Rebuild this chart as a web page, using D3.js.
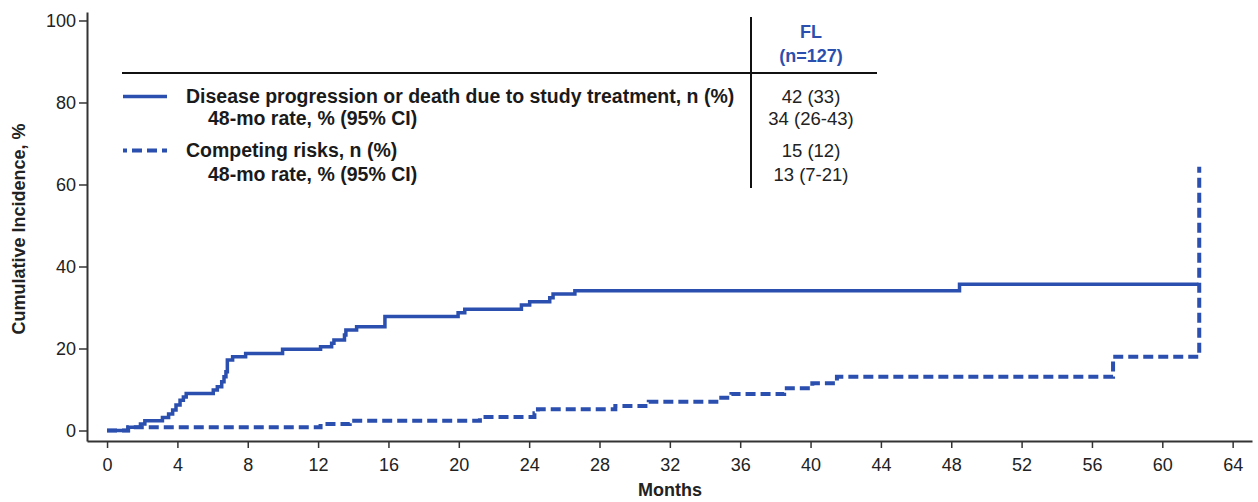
<!DOCTYPE html>
<html>
<head>
    <meta charset="utf-8">
    <script src="https://d3js.org/d3.v7.min.js"></script>
    <style>
        body { margin: 0; background: #fff; }
        text { font-family: "Liberation Sans", Arial, sans-serif; }
    </style>
</head>
<body>
    <div id="chart"></div>

    <script>
        // data
        const progMonths = [0, 1.2, 1.9, 2.15, 3.15, 3.5, 3.73, 3.92, 4.15, 4.34, 4.5, 6.04, 6.27, 6.52, 6.65, 6.76, 6.84, 7.14, 7.88, 9.98, 12.14, 12.77, 12.9, 13.5, 13.58, 14.19, 15.8, 19.96, 20.34, 23.56, 24.03, 25.17, 25.36, 26.6, 48.47, 62.06];
        const progValues = [0, 0.8, 1.6, 2.4, 3.2, 4.0, 5.0, 6.2, 7.4, 8.2, 9.0, 9.9, 10.7, 11.9, 13.1, 14.3, 17.2, 18.0, 18.8, 19.8, 20.4, 21.3, 22.1, 23.3, 24.5, 25.3, 27.8, 28.7, 29.6, 30.6, 31.4, 32.4, 33.3, 34.1, 35.7, 35.7];

        const compMonths = [0, 1.2, 12.14, 13.8, 21.2, 24.3, 24.5, 28.9, 30.8, 34.8, 35.5, 38.5, 40.1, 41.5, 57.2, 62.1];
        const compValues = [0, 0.8, 1.6, 2.4, 3.3, 4.2, 5.2, 6.0, 7.0, 8.0, 8.9, 10.3, 11.5, 13.1, 18.0, 64.3];

        const xTicks = d3.range(0, 65, 4);
        const yTicks = [0, 20, 40, 60, 80, 100];

        const groupName = "FL";
        const groupN = "(n=127)";
        const rowLabels = [
            "Disease progression or death due to study treatment, n (%)",
            "48-mo rate, % (95% CI)",
            "Competing risks, n (%)",
            "48-mo rate, % (95% CI)"
        ];
        const rowValues = ["42 (33)", "34 (26-43)", "15 (12)", "13 (7-21)"];

        const width = 1258;
        const height = 502;
        const blue = "#2b4fae";
        const axisColor = "#333";

        const svg = d3.select("#chart")
            .append("svg")
            .attr("width", width)
            .attr("height", height);

        // scales (axis lines run a bit past 0 and 100 / 0 and 64)
        const x = d3.scaleLinear().domain([-1.14, 65.1]).range([87, 1252]);
        const y = d3.scaleLinear().domain([-2.56, 102.07]).range([441, 12]);

        // x axis
        const gx = svg.append("g")
            .attr("transform", "translate(0,441)")
            .call(d3.axisBottom(x).tickValues(xTicks).tickSize(7).tickSizeOuter(0).tickPadding(10));
        // y axis
        const gy = svg.append("g")
            .attr("transform", "translate(87,0)")
            .call(d3.axisLeft(y).tickValues(yTicks).tickSize(8).tickSizeOuter(0).tickPadding(3));

        [gx, gy].forEach(g => {
            g.select(".domain").attr("stroke", axisColor).attr("stroke-width", 2);
            g.selectAll(".tick line").attr("stroke", axisColor).attr("stroke-width", 1.5);
            g.selectAll(".tick text")
                .attr("fill", "#222")
                .style("font-size", "18px")
                .style("font-family", "'Liberation Sans', Arial, sans-serif");
        });

        // axis titles
        svg.append("text")
            .attr("x", 670).attr("y", 496)
            .attr("text-anchor", "middle")
            .style("font-size", "18px").style("font-weight", "bold")
            .attr("fill", "#222")
            .text("Months");

        svg.append("text")
            .attr("transform", "translate(25,229) rotate(-90)")
            .attr("text-anchor", "middle")
            .style("font-size", "18px").style("font-weight", "bold")
            .attr("fill", "#222")
            .text("Cumulative Incidence, %");

        // step curves
        const line = d3.line()
            .x(d => x(d[0]))
            .y(d => y(d[1]))
            .curve(d3.curveStepAfter);

        svg.append("path")
            .datum(compMonths.map((m, i) => [m, compValues[i]]))
            .attr("d", line)
            .attr("fill", "none")
            .attr("stroke", blue)
            .attr("stroke-width", 4)
            .attr("stroke-dasharray", "10,5");

        svg.append("path")
            .datum(progMonths.map((m, i) => [m, progValues[i]]))
            .attr("d", line)
            .attr("fill", "none")
            .attr("stroke", blue)
            .attr("stroke-width", 3.5);

        // table / legend
        svg.append("line")
            .attr("x1", 122).attr("x2", 877).attr("y1", 73).attr("y2", 73)
            .attr("stroke", "#111").attr("stroke-width", 2);
        svg.append("line")
            .attr("x1", 751).attr("x2", 751).attr("y1", 17).attr("y2", 188)
            .attr("stroke", "#111").attr("stroke-width", 2);

        svg.append("text")
            .attr("x", 811).attr("y", 38)
            .attr("text-anchor", "middle")
            .style("font-family", "'Liberation Sans Narrow', 'Liberation Sans', Arial, sans-serif")
            .style("font-size", "18px").style("font-weight", "bold")
            .attr("fill", blue)
            .text(groupName);
        svg.append("text")
            .attr("x", 811).attr("y", 62)
            .attr("text-anchor", "middle")
            .style("font-family", "'Liberation Sans Narrow', 'Liberation Sans', Arial, sans-serif")
            .style("font-size", "18px").style("font-weight", "bold")
            .attr("fill", blue)
            .text(groupN);

        const rowX = [186, 208, 186, 208];
        const rowY = [103, 125, 157, 181];

        svg.selectAll(".rowlabel")
            .data(rowLabels)
            .enter()
            .append("text")
            .attr("class", "rowlabel")
            .attr("x", (d, i) => rowX[i])
            .attr("y", (d, i) => rowY[i])
            .style("font-size", "19.5px").style("font-weight", "bold")
            .attr("fill", "#1a1a1a")
            .text(d => d);

        svg.selectAll(".rowvalue")
            .data(rowValues)
            .enter()
            .append("text")
            .attr("class", "rowvalue")
            .attr("x", 811)
            .attr("y", (d, i) => rowY[i])
            .attr("text-anchor", "middle")
            .style("font-size", "18.5px")
            .attr("fill", "#222")
            .text(d => d);

        // legend line samples
        svg.append("line")
            .attr("x1", 123).attr("x2", 167).attr("y1", 96.5).attr("y2", 96.5)
            .attr("stroke", blue).attr("stroke-width", 3.5);
        svg.append("line")
            .attr("x1", 123).attr("x2", 167).attr("y1", 150.5).attr("y2", 150.5)
            .attr("stroke", blue).attr("stroke-width", 4)
            .attr("stroke-dasharray", "10,5").attr("stroke-dashoffset", 6);
    </script>
</body>
</html>
